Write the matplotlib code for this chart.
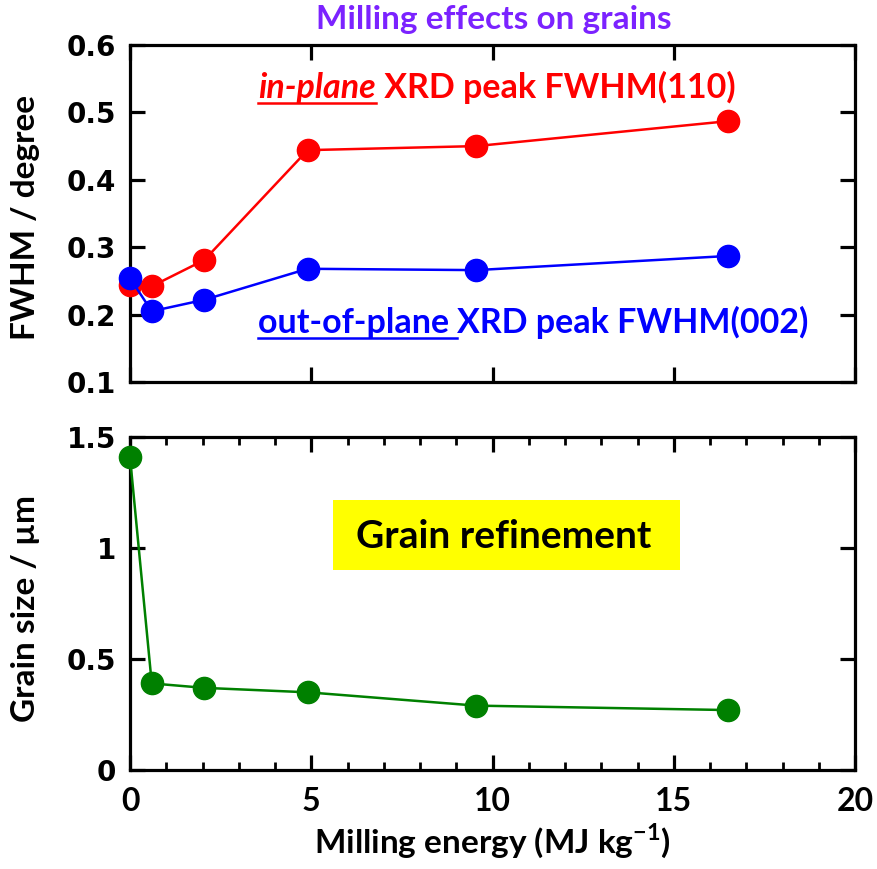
import matplotlib
matplotlib.use("Agg")
import matplotlib.pyplot as plt
from matplotlib.ticker import MultipleLocator, FuncFormatter
from matplotlib.lines import Line2D

# Milling energy (MJ/kg) and measured quantities
energy = [0, 0.6, 2.05, 4.9, 9.55, 16.5]
fwhm_110 = [0.244, 0.242, 0.281, 0.444, 0.450, 0.487]
fwhm_002 = [0.254, 0.205, 0.222, 0.268, 0.266, 0.287]
grain_size = [1.41, 0.39, 0.37, 0.35, 0.29, 0.27]

title = "Milling effects on grains"
red_lead, red_rest = "in-plane", " XRD peak FWHM(110)"
blue_lead, blue_rest = "out-of-plane ", "XRD peak FWHM(002)"
box_text = "Grain refinement"

W, H = 877, 869
fig = plt.figure(figsize=(W / 100, H / 100), dpi=100)
ax1 = fig.add_axes([130 / W, 1 - 382 / H, 725 / W, 337 / H])
ax2 = fig.add_axes([130 / W, 1 - 770 / H, 725 / W, 333 / H])

TXT = "Lato"
RED, BLUE, GREEN = "#ff0000", "#0000ff", "#008000"

ax1.plot(energy, fwhm_110, "-o", color=RED, lw=1.8, ms=16, clip_on=False, zorder=3)
ax1.plot(energy, fwhm_002, "-o", color=BLUE, lw=1.8, ms=16, clip_on=False, zorder=4)
ax2.plot(energy, grain_size, "-o", color=GREEN, lw=1.8, ms=16, clip_on=False, zorder=3)

ax1.set_xlim(0, 20)
ax1.set_ylim(0.1, 0.6)
ax2.set_xlim(0, 20)
ax2.set_ylim(0, 1.5)

ax1.xaxis.set_major_locator(MultipleLocator(5))
ax1.yaxis.set_major_locator(MultipleLocator(0.1))
ax2.xaxis.set_major_locator(MultipleLocator(5))
ax2.xaxis.set_minor_locator(MultipleLocator(1))
ax2.yaxis.set_major_locator(MultipleLocator(0.5))
ax2.yaxis.set_major_formatter(FuncFormatter(lambda v, p: f"{v:g}"))
ax1.yaxis.set_major_formatter(FuncFormatter(lambda v, p: f"{v:.1f}"))

for ax in (ax1, ax2):
    for s in ax.spines.values():
        s.set_linewidth(2.3)
    ax.tick_params(which="major", direction="in", length=11, width=2.3,
                   top=True, right=True)
    ax.tick_params(which="minor", direction="in", length=6, width=2.0,
                   top=True, right=True)
    for lab in ax.get_yticklabels():
        lab.set_fontfamily("DejaVu Sans")
        lab.set_fontweight("bold")
        lab.set_fontsize(20)
    ax.tick_params(axis="y", pad=10)

ax1.tick_params(axis="x", labelbottom=False)
for lab in ax2.get_xticklabels():
    lab.set_fontfamily(TXT)
    lab.set_fontsize(23)
    lab.set_fontweight("bold")
ax2.tick_params(axis="x", pad=12)

ax2.set_xlabel("Milling energy (MJ kg$^{\\mathregular{-1}}$)", fontfamily=TXT,
               fontsize=24, fontweight="bold", labelpad=4)

fig.text(26 / W, 1 - 218 / H, "FWHM / degree", rotation=90, ha="center",
         va="center", fontfamily=TXT, fontsize=24, fontweight="bold")
fig.text(26 / W, 1 - 608 / H, "Grain size / µm", rotation=90, ha="center",
         va="center", fontfamily=TXT, fontsize=24, fontweight="bold")

fig.text(494 / W, 1 - 19 / H, title, ha="center", va="center",
         fontfamily=TXT, fontsize=24, fontweight="bold", color="#7b22ff")

# Annotation labels inside the upper panel
t_red = fig.text(258 / W, 1 - 98 / H, red_lead, ha="left", va="baseline",
                 fontfamily=TXT, fontsize=24.5, fontweight="bold",
                 style="italic", color=RED)
t_red_rest = fig.text(0, 0, red_rest, ha="left", va="baseline",
                      fontfamily=TXT, fontsize=24.5, fontweight="bold",
                      color=RED)

t_blue = fig.text(258 / W, 1 - 333 / H, blue_lead, ha="left", va="baseline",
                  fontfamily=TXT, fontsize=24.5, fontweight="bold", color=BLUE)
t_blue_rest = fig.text(0, 0, blue_rest, ha="left", va="baseline",
                       fontfamily=TXT, fontsize=24.5, fontweight="bold",
                       color=BLUE)

ax2.add_patch(plt.Rectangle((333 / W, 1 - 570 / H), 347 / W, 70 / H,
                            transform=fig.transFigure, facecolor="#ffff00",
                            edgecolor="none", zorder=1))
ax2.text((504 - 130) / 725, (770 - 537) / 333, box_text,
         transform=ax2.transAxes, ha="center", va="center", fontfamily=TXT,
         fontsize=28, fontweight="bold", color="black", zorder=5)

fig.canvas.draw()
r = fig.canvas.get_renderer()


def chain(lead, rest, color):
    bb = lead.get_window_extent(r)
    x_base, y_base = lead.get_position()
    rest.set_position((bb.x1 / W, y_base))
    y_line = y_base - 5 / H
    fig.add_artist(Line2D([bb.x0 / W, bb.x1 / W], [y_line, y_line],
                          transform=fig.transFigure, color=color, lw=1.8))


chain(t_red, t_red_rest, RED)
chain(t_blue, t_blue_rest, BLUE)

fig.savefig("out.png", dpi=100)
